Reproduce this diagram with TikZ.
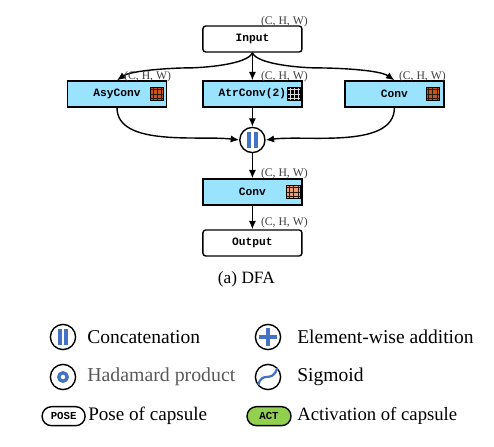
\documentclass[tikz,border=0pt]{standalone}
\usepackage{fontspec}
\setmainfont{Liberation Serif}
\setmonofont{Liberation Mono}
\usepackage{xcolor}
\usetikzlibrary{arrows.meta}
\definecolor{boxblue}{HTML}{99E3FF}
\definecolor{opblue}{HTML}{4472C4}
\definecolor{actgreen}{HTML}{92D050}
\definecolor{cellorange}{HTML}{C8551A}
\definecolor{celllight}{HTML}{E8A070}
\definecolor{celldark}{HTML}{2B1A10}
\tikzset{
  plainbox/.style={draw, line width=1pt, rounded corners=2pt, minimum width=2.475cm, minimum height=0.65cm, inner sep=0pt, font=\ttfamily\bfseries\fontsize{8}{8}\selectfont},
  convbox/.style={draw, line width=1pt, fill=boxblue, minimum width=2.475cm, minimum height=0.65cm, inner sep=0pt, font=\ttfamily\bfseries\fontsize{8}{8}\selectfont},
  opcircle/.style={draw, line width=1pt, circle, minimum size=0.63cm, inner sep=0pt},
  shapelabel/.style={font=\fontsize{8.3}{8.3}\selectfont, text=black!75},
  legendtext/.style={anchor=west, inner sep=0pt, font=\fontsize{13.9}{14}\selectfont},
  pill/.style={draw, line width=1pt, rounded corners=0.235cm, minimum height=0.475cm, inner sep=0pt, font=\ttfamily\bfseries\fontsize{7.6}{8}\selectfont},
  arrowline/.style={-{Latex[length=2.1mm,width=1.8mm]}, line width=1pt},
  pics/gridicon/.style n args={2}{code={
    \fill[#1] (-0.165,-0.165) rectangle (0.165,0.165);
    \draw[#2, line width=0.4pt] (-0.165,-0.165) grid[step=0.11] (0.165,0.165);
    \draw[black, line width=0.6pt] (-0.165,-0.165) rectangle (0.165,0.165);
  }}
}
\newcommand{\concatbars}[1]{
  \fill[opblue] ([shift={(-0.135,-0.19)}]#1.center) rectangle ([shift={(-0.03,0.19)}]#1.center);
  \fill[opblue] ([shift={(0.03,-0.19)}]#1.center) rectangle ([shift={(0.135,0.19)}]#1.center);
}
\begin{document}
\begin{tikzpicture}
     \useasboundingbox (0,0) rectangle (12.35,11.175);
     % main blocks
     \node [plainbox] (input) at (6.31,10.2) {Input};
     \node [convbox] (asyconv) at (2.925,8.825) {AsyConv};
     \node [convbox] (atrconv) at (6.31,8.825) {AtrConv(2)\hspace{0.33cm}};
     \node [convbox] (sideconv) at (9.86,8.825) {Conv};
     \node [opcircle] (concat) at (6.31,7.675) {};
     \node [convbox] (mergeconv) at (6.31,6.375) {Conv};
     \node [plainbox] (output) at (6.31,5.1) {Output};
     \concatbars{concat}
     % grid icons
     \pic at ([xshift=-0.25cm]asyconv.east) {gridicon={cellorange}{celldark}};
     \pic at ([xshift=-0.21cm]atrconv.east) {gridicon={black}{white!85!black}};
     \pic at ([xshift=-0.3cm]sideconv.east) {gridicon={cellorange}{celldark}};
     \pic at ([xshift=-0.23cm]mergeconv.east) {gridicon={celllight}{celldark}};
     % connectors
     \draw [arrowline] (input.south) to [out=-110, in=0, looseness=0.5] ++(-1.6,-0.38) to [out=180, in=35, looseness=0.6] (asyconv.north);
     \draw [arrowline] (input.south) -- (atrconv.north);
     \draw [arrowline] (input.south) to [out=-70, in=180, looseness=0.5] ++(1.6,-0.38) to [out=0, in=145, looseness=0.6] (sideconv.north);
     \draw [arrowline] (asyconv.south) to [out=-90, in=173, looseness=0.8] (concat.west);
     \draw [arrowline] (atrconv.south) -- (concat.north);
     \draw [arrowline] (sideconv.south) to [out=-90, in=7, looseness=0.8] (concat.east);
     \draw [arrowline] (concat.south) -- (mergeconv.north);
     \draw [arrowline] (mergeconv.south) -- (output.north);
     % shape labels
     \node [shapelabel] (shapeinput) at (7.11,10.63) {(C, H, W)};
     \node [shapelabel] (shapeasy) at (3.69,9.26) {(C, H, W)};
     \node [shapelabel] (shapeatr) at (7.11,9.26) {(C, H, W)};
     \node [shapelabel] (shapeside) at (10.56,9.26) {(C, H, W)};
     \node [shapelabel] (shapemerge) at (7.11,6.835) {(C, H, W)};
     \node [shapelabel] (shapeoutput) at (7.11,5.61) {(C, H, W)};
     \node [font=\fontsize{12.3}{12}\selectfont] (caption) at (6.16,4.18) {(a) DFA};
     % legend
     \node [opcircle] (legconcat) at (1.575,2.75) {};
     \concatbars{legconcat}
     \node [legendtext] (txtconcat) at (2.175,2.75) {Concatenation};
     \node [opcircle] (legadd) at (6.7,2.75) {};
     \fill [opblue] ([shift={(-0.22,-0.04)}]legadd.center) rectangle ([shift={(0.22,0.04)}]legadd.center);
     \fill [opblue] ([shift={(-0.04,-0.22)}]legadd.center) rectangle ([shift={(0.04,0.22)}]legadd.center);
     \node [legendtext] (txtadd) at (7.425,2.75) {Element-wise addition};
     \node [opcircle] (leghad) at (1.575,1.75) {};
     \draw [opblue, line width=2.4pt] (leghad.center) circle (0.105cm);
     \node [legendtext, text=black!65, font=\fontsize{14.1}{14}\selectfont] (txthad) at (2.175,1.75) {Hadamard product};
     \node [opcircle] (legsig) at (6.7,1.75) {};
     \draw [opblue, line width=1.6pt] ([shift={(-0.24,-0.2)}]legsig.center) .. controls ([shift={(-0.15,0.18)}]legsig.center) and ([shift={(0.1,-0.18)}]legsig.center) .. ([shift={(0.23,0.22)}]legsig.center);
     \node [legendtext] (txtsig) at (7.425,1.75) {Sigmoid};
     \node [pill, minimum width=1.075cm] (legpose) at (1.59,0.77) {POSE};
     \node [legendtext, font=\fontsize{13.6}{14}\selectfont] (txtpose) at (2.2,0.77) {Pose of capsule};
     \node [pill, fill=actgreen, minimum width=1.1cm] (legact) at (6.725,0.77) {ACT};
     \node [legendtext, font=\fontsize{13.3}{14}\selectfont] (txtact) at (7.425,0.77) {Activation of capsule};
\end{tikzpicture}
\end{document}
